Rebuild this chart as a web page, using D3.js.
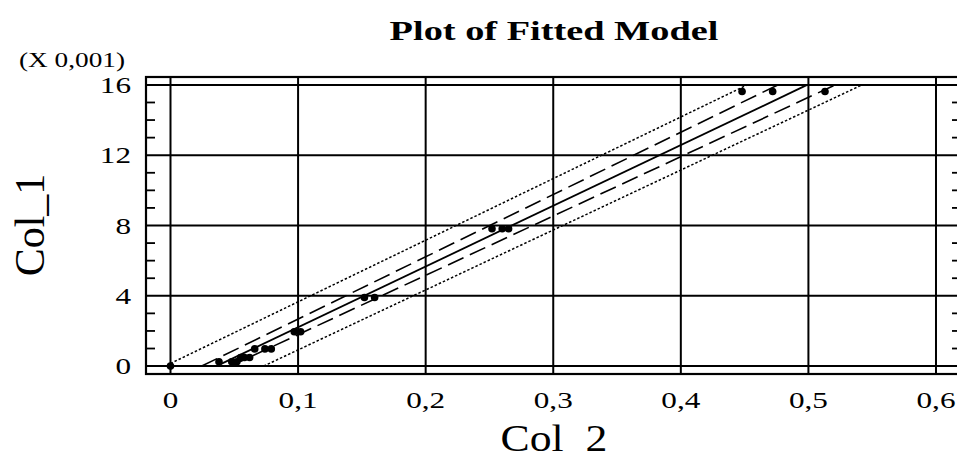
<!DOCTYPE html>
<html>
<head>
<meta charset="utf-8">
<title>Plot of Fitted Model</title>
<script src="https://d3js.org/d3.v7.min.js"></script>
<style>
  body { margin: 0; background: #fff; }
  text { font-family: "Liberation Serif", "DejaVu Serif", serif; fill: #000; }
</style>
</head>
<body>
<svg id="chart"></svg>
<script>
// data (Col_1 in units of 0.001)
var col2 = [0, 0.038, 0.048, 0.052, 0.055, 0.058, 0.062, 0.066, 0.074, 0.079,
            0.097, 0.102, 0.152, 0.160, 0.252, 0.260, 0.265, 0.448, 0.472, 0.513];
var col1 = [0, 0.244, 0.244, 0.244, 0.488, 0.488, 0.488, 0.977, 0.977, 0.977,
            1.953, 1.953, 3.906, 3.906, 7.8125, 7.8125, 7.8125, 15.625, 15.625, 15.625];

// fitted line and limits, as [col2, col1] end points
var fitLine   = [[0.036, 0], [0.499, 16]];
var confUpper = [[0.0245, 0], [0.476, 16]];
var confLower = [[0.047, 0], [0.521, 16]];
var predUpper = [[0, 0.15], [0.452, 16]];
var predLower = [[0.073, 0], [0.542, 16]];

var xTicks = [0, 0.1, 0.2, 0.3, 0.4, 0.5, 0.6];
var yTicks = [0, 4, 8, 12, 16];
var yMinor = [1, 2, 3, 5, 6, 7, 9, 10, 11, 13, 14, 15];

var width = 957, height = 453;
var pLeft = 146, pRight = 961, pTop = 77, pBottom = 374;
var sx = 1.3;   // the picture's text is stretched sideways

var svg = d3.select("#chart").attr("width", width).attr("height", height);

var x = d3.scaleLinear().domain([-0.0192, 0.6196]).range([pLeft, pRight]);
var y = d3.scaleLinear().domain([-0.45, 16.45]).range([pBottom, pTop]);

function label(str, px, py, size, anchor, k, weight) {
    svg.append("text")
        .attr("transform", "translate(" + px + "," + py + ") scale(" + k + ",1)")
        .attr("text-anchor", anchor)
        .style("font-size", size + "px")
        .style("font-weight", weight || "normal")
        .text(str);
}

// grid
svg.selectAll(".gx").data(xTicks).enter().append("line")
    .attr("x1", d => x(d)).attr("x2", d => x(d))
    .attr("y1", pTop).attr("y2", pBottom)
    .attr("stroke", "#000").attr("stroke-width", 2);
svg.selectAll(".gy").data(yTicks).enter().append("line")
    .attr("x1", pLeft).attr("x2", pRight)
    .attr("y1", d => y(d)).attr("y2", d => y(d))
    .attr("stroke", "#000").attr("stroke-width", 2);

// minor ticks left and right
svg.selectAll(".ml").data(yMinor).enter().append("line")
    .attr("x1", pLeft).attr("x2", pLeft + 9)
    .attr("y1", d => y(d)).attr("y2", d => y(d))
    .attr("stroke", "#000").attr("stroke-width", 1.8);
svg.selectAll(".mr").data(yMinor).enter().append("line")
    .attr("x1", pRight - 9).attr("x2", pRight)
    .attr("y1", d => y(d)).attr("y2", d => y(d))
    .attr("stroke", "#000").attr("stroke-width", 1.8);

// frame
svg.append("rect")
    .attr("x", pLeft).attr("y", pTop)
    .attr("width", pRight - pLeft).attr("height", pBottom - pTop)
    .attr("fill", "none").attr("stroke", "#000").attr("stroke-width", 2.2);

// model lines
var line = d3.line().x(d => x(d[0])).y(d => y(d[1]));
function drawLine(pts, dash, w) {
    svg.append("path").attr("d", line(pts))
        .attr("fill", "none").attr("stroke", "#000")
        .attr("stroke-width", w)
        .attr("stroke-dasharray", dash);
}
drawLine(predUpper, "2.5,2", 1.5);
drawLine(predLower, "2.5,2", 1.5);
drawLine(confUpper, "17,7", 1.6);
drawLine(confLower, "17,7", 1.6);
drawLine(fitLine, null, 1.8);

// points
svg.selectAll(".pt").data(col2).enter().append("circle")
    .attr("cx", d => x(d))
    .attr("cy", (d, i) => y(col1[i]))
    .attr("r", 3.8)
    .attr("fill", "#000");

// tick labels
xTicks.forEach(function (d) {
    label(d === 0 ? "0" : String(d).replace(".", ","), x(d), 408, 24, "middle", sx);
});
yTicks.forEach(function (d) {
    label(String(d), 131, y(d) + 8, 24, "end", sx);
});

label("(X 0,001)", 72, 67, 21, "middle", 1.3);
label("Plot of Fitted Model", 554, 40, 27, "middle", 1.42, "bold");
label("Col_2", 554, 451, 38, "middle", 1.15);

svg.append("text")
    .attr("transform", "translate(44,225) rotate(-90)")
    .attr("text-anchor", "middle")
    .style("font-size", "42px")
    .text("Col_1");
</script>
</body>
</html>
